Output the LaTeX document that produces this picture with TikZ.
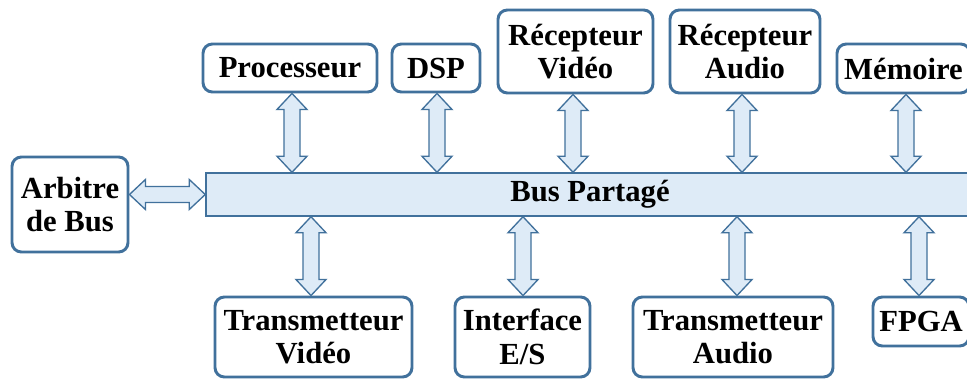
\documentclass[tikz,border=0pt]{standalone}
\usepackage{fontspec}
\newfontfamily\lserif{Liberation Serif}
\usetikzlibrary{calc}
\definecolor{bord}{HTML}{41719C}
\definecolor{lfill}{HTML}{DEEBF7}
\tikzset{
  blk/.style={draw=bord, line width=2.2pt, rounded corners=7pt, fill=white,
    align=center, inner sep=0pt, font=\lserif\bfseries\fontsize{23}{25}\selectfont},
  busbox/.style={draw=bord, line width=1.1pt, fill=lfill, inner sep=0pt,
    font=\lserif\bfseries\fontsize{23}{25}\selectfont},
  arr/.style={draw=bord, line width=1pt, fill=lfill, line join=miter}
}
% vertical double block arrow: tip at #1 (top), tip at #2 (bottom), at x of #1 shifted by #3
\newcommand\vbarrow[3]{%
  \path[arr] let \p1=($(#1)+(#3,0)$), \p2=(#2) in
    (\x1,\y1) -- ({\x1+11.25pt},{\y1-12pt}) -- ({\x1+6pt},{\y1-12pt})
    -- ({\x1+6pt},{\y2+12pt}) -- ({\x1+11.25pt},{\y2+12pt}) -- (\x1,\y2)
    -- ({\x1-11.25pt},{\y2+12pt}) -- ({\x1-6pt},{\y2+12pt})
    -- ({\x1-6pt},{\y1-12pt}) -- ({\x1-11.25pt},{\y1-12pt}) -- cycle;}
\newcommand\hbarrow[2]{%
  \path[arr] let \p1=(#1), \p2=(#2) in
    (\x1,\y2) -- ({\x1+12pt},{\y2+11.25pt}) -- ({\x1+12pt},{\y2+6pt})
    -- ({\x2-12pt},{\y2+6pt}) -- ({\x2-12pt},{\y2+11.25pt}) -- (\x2,\y2)
    -- ({\x2-12pt},{\y2-11.25pt}) -- ({\x2-12pt},{\y2-6pt})
    -- ({\x1+12pt},{\y2-6pt}) -- ({\x1+12pt},{\y2-11.25pt}) -- cycle;}
\begin{document}
\begin{tikzpicture}[x=0.75pt,y=-0.75pt]
\useasboundingbox (0,0) rectangle (967,381);
\clip (0,0) rectangle (967,381);
\fill[white] (0,0) rectangle (967,381);
% bus
\node[busbox, minimum width=768*0.75pt, minimum height=43*0.75pt] (bus) at (590,194.5) {Bus Partagé};
% top boxes
\node[blk, minimum width=174*0.75pt, minimum height=48*0.75pt] (proc) at (290,68) {Processeur};
\node[blk, minimum width=88*0.75pt, minimum height=48*0.75pt] (dsp) at (436,68) {DSP};
\node[blk, minimum width=155*0.75pt, minimum height=83*0.75pt] (rv) at (575.5,51.5) {Récepteur\\Vidéo};
\node[blk, minimum width=150*0.75pt, minimum height=83*0.75pt] (ra) at (745,51.5) {Récepteur\\Audio};
\node[blk, minimum width=133*0.75pt, minimum height=49*0.75pt] (mem) at (903.5,68.5) {Mémoire};
% left
\node[blk, minimum width=116*0.75pt, minimum height=95*0.75pt] (arb) at (70,204.5) {Arbitre\\de Bus};
% bottom boxes
\node[blk, minimum width=197*0.75pt, minimum height=80*0.75pt] (tv) at (313.5,337) {Transmetteur\\Vidéo};
\node[blk, minimum width=135*0.75pt, minimum height=80*0.75pt] (ie) at (522.5,337) {Interface\\E/S};
\node[blk, minimum width=200*0.75pt, minimum height=80*0.75pt] (ta) at (733,337) {Transmetteur\\Audio};
\node[blk, minimum width=96*0.75pt, minimum height=49*0.75pt] (fpga) at (921,321.5) {FPGA};
% arrows top
\vbarrow{proc.south}{bus.north}{2}
\vbarrow{dsp.south}{bus.north}{1}
\vbarrow{rv.south}{bus.north}{-2.5}
\vbarrow{ra.south}{bus.north}{-3}
\vbarrow{mem.south}{bus.north}{2.5}
% arrows bottom
\vbarrow{bus.south}{tv.north}{-279}
\vbarrow{bus.south}{ie.north}{-67}
\vbarrow{bus.south}{ta.north}{147}
\vbarrow{bus.south}{fpga.north}{329}
% arbiter
\hbarrow{arb.east}{bus.west}
\end{tikzpicture}
\end{document}
